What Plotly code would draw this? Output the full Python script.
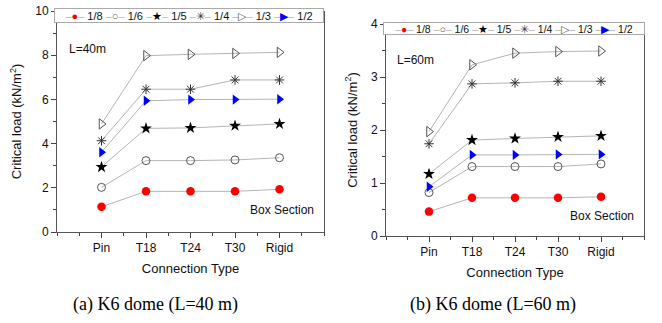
import plotly.graph_objects as go

# ---------------- data ----------------
categories = ["Pin", "T18", "T24", "T30", "Rigid"]
series_names = ["1/8", "1/6", "1/5", "1/4", "1/3", "1/2"]

# L = 40 m
v18_40 = [1.14, 1.84, 1.84, 1.84, 1.93]
v16_40 = [2.02, 3.23, 3.23, 3.26, 3.36]
v15_40 = [2.94, 4.69, 4.71, 4.81, 4.89]
v14_40 = [4.13, 6.46, 6.46, 6.88, 6.88]
v13_40 = [4.89, 7.98, 8.04, 8.08, 8.13]
v12_40 = [3.61, 5.94, 5.99, 5.99, 6.01]

# L = 60 m
v18_60 = [0.46, 0.72, 0.72, 0.72, 0.74]
v16_60 = [0.82, 1.31, 1.31, 1.31, 1.36]
v15_60 = [1.17, 1.81, 1.84, 1.87, 1.89]
v14_60 = [1.74, 2.87, 2.89, 2.92, 2.92]
v13_60 = [1.97, 3.23, 3.45, 3.48, 3.49]
v12_60 = [0.93, 1.53, 1.53, 1.54, 1.54]

y_ticks_40 = [0, 2, 4, 6, 8, 10]
y_ticks_60 = [0, 1, 2, 3, 4]

data_40 = [v18_40, v16_40, v15_40, v14_40, v13_40, v12_40]
data_60 = [v18_60, v16_60, v15_60, v14_60, v13_60, v12_60]

# ---------------- styles ----------------
LINE_C = "#b4b4b4"
styles = [
    dict(symbol="circle", color="#ff0000", size=8.5, lw=0, glyph="●"),
    dict(symbol="circle-open", color="#555555", size=8, lw=1, glyph="○"),
    dict(symbol="star", color="#000000", size=9, lw=0, glyph="★"),
    dict(symbol="asterisk-open", color="#333333", size=8, lw=1, glyph="✳"),
    dict(symbol="triangle-right-open", color="#555555", size=9, lw=1, glyph="▷"),
    dict(symbol="triangle-right", color="#0000ff", size=9, lw=0, glyph="▶"),
]

FONT = "Liberation Sans, Arial, sans-serif"
xpos = list(range(len(categories)))

fig = go.Figure()

def add_panel(data, xa, ya):
    for name, vals, st in zip(series_names, data, styles):
        fig.add_trace(go.Scatter(
            x=xpos, y=vals, name=name, mode="lines+markers",
            xaxis=xa, yaxis=ya, showlegend=False,
            line=dict(color=LINE_C, width=1),
            marker=dict(symbol=st["symbol"], color=st["color"], size=st["size"],
                        line=dict(color=st["color"], width=st["lw"])),
        ))

add_panel(data_40, "x", "y")
add_panel(data_60, "x2", "y2")

def xaxis_cfg(domain, ya):
    return dict(
        domain=domain, anchor=ya, range=[-1, len(categories)], tickmode="array",
        tickvals=xpos, ticktext=categories, ticks="outside", ticklen=5,
        tickcolor="#444", showline=True, linecolor="#555", linewidth=1,
        mirror=False, showgrid=False, zeroline=False, automargin=False,
        tickfont=dict(family=FONT, size=12, color="#111"),
        minor=dict(ticks="outside", ticklen=3, tickcolor="#444", dtick=0.5, tick0=-1, showgrid=False),
        title=dict(text="Connection Type", font=dict(family=FONT, size=13, color="#111"), standoff=9),
    )

def yaxis_cfg(domain, ticks, xa):
    step = ticks[1] - ticks[0]
    return dict(
        domain=domain, anchor=xa, range=[ticks[0], ticks[-1]], tickmode="array",
        tickvals=ticks, ticks="outside", ticklen=5, tickcolor="#444",
        showline=True, linecolor="#555", linewidth=1, mirror=True,
        showgrid=False, zeroline=False, automargin=False,
        tickfont=dict(family=FONT, size=12, color="#111"),
        minor=dict(ticks="outside", ticklen=3, tickcolor="#444", dtick=step / 2, tick0=0, showgrid=False),
        title=dict(text="Critical load (kN/m<sup>2</sup>)", font=dict(family=FONT, size=13, color="#111"), standoff=10),
    )

W, H = 662, 323
fig.update_layout(
    width=W, height=H, margin=dict(l=0, r=0, t=0, b=0, autoexpand=False),
    paper_bgcolor="white", plot_bgcolor="white",
    xaxis=xaxis_cfg([57 / W, 324 / W], "y"),
    yaxis=yaxis_cfg([1 - 232 / H, 1 - 11 / H], y_ticks_40, "x"),
    xaxis2=xaxis_cfg([386 / W, 644 / W], "y2"),
    yaxis2=yaxis_cfg([1 - 236 / H, 1 - 24 / H], y_ticks_60, "x2"),
)

# legend rows (text-based, built from series names and styles)
def legend_text():
    parts = []
    for name, st in zip(series_names, styles):
        parts.append(
            f"<span style='color:{LINE_C}'>–</span>"
            f"<span style='color:{st['color']}'>{st['glyph']}</span>"
            f"<span style='color:{LINE_C}'>–</span> {name}"
        )
    return " ".join(parts)

for xc, yc, w, h, fs in [((54 + 324) / 2, 15.5, 268, 13, 11), ((383 + 645) / 2, 28.7, 260, 11, 10.5)]:
    fig.add_annotation(
        xref="paper", yref="paper", x=xc / W, y=1 - yc / H, xanchor="center", yanchor="middle",
        text=legend_text(), showarrow=False, width=w, height=h, align="center",
        bordercolor="#aaaaaa", borderwidth=1, borderpad=0, bgcolor="white",
        font=dict(family=FONT, size=fs, color="#111"),
    )

# panel labels
for txt, x, y, anc in [("L=40m", 67, 49, "left"), ("L=60m", 395, 60, "left"),
                       ("Box Section", 316, 210, "right"), ("Box Section", 636, 216, "right")]:
    fig.add_annotation(xref="paper", yref="paper", x=x / W, y=1 - y / H, xanchor=anc,
                       yanchor="middle", text=txt, showarrow=False,
                       font=dict(family=FONT, size=12, color="#111"))

# captions
for txt, x in [("(a) K6 dome (L=40 m)", 155), ("(b) K6 dome (L=60 m)", 493)]:
    fig.add_annotation(xref="paper", yref="paper", x=x / W, y=1 - 304 / H, xanchor="center",
                       yanchor="middle", text=txt, showarrow=False,
                       font=dict(family="Liberation Serif, Times New Roman, serif", size=18, color="#000"))

fig.write_html("out.html", config={"displayModeBar": False},
               post_script="document.body.style.margin='0px';")
